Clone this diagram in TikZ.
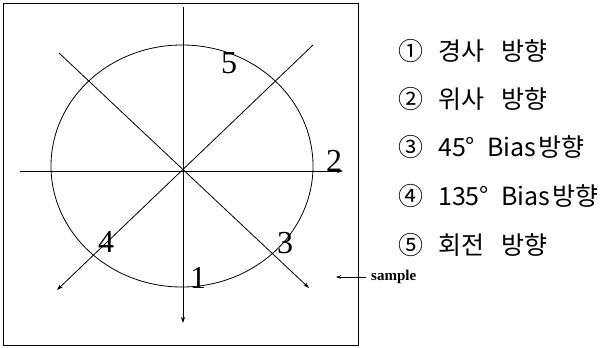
\documentclass[tikz,border=0pt]{standalone}
\usepackage{fontspec}
\setmainfont{Liberation Serif}
\newfontfamily\krfont{Noto Sans CJK KR}
\usetikzlibrary{arrows.meta,shapes.geometric}
\tikzset{
  ln/.style={line width=0.8pt},
  tip/.style={-{Stealth[length=6pt,width=4pt]}},
  num/.style={inner sep=0pt,font=\fontsize{32}{36}\selectfont},
  leg/.style={anchor=west,inner sep=0pt,font=\krfont\fontsize{25}{28}\selectfont},
}
\begin{document}
\begin{tikzpicture}[x=1pt,y=-1pt]
\useasboundingbox[fill=white] (0,0) rectangle (614,348);
% frame
\node[draw,ln,minimum width=355pt,minimum height=342pt,inner sep=0pt,anchor=north west] (frame) at (3,3) {};
% ellipse
\node[draw,ln,ellipse,minimum width=262pt,minimum height=242pt,inner sep=0pt] (sample) at (182,166) {};
% axes
\coordinate (c) at (183,171);
\coordinate (vt) at (183,7);
\coordinate (vb) at (183,323);
\coordinate (hl) at (20,171);
\coordinate (hr) at (343,171);
\coordinate (a1) at (59,53);
\coordinate (a2) at (309,288);
\coordinate (b1) at (313,45);
\coordinate (b2) at (57,290);
\draw[ln,tip] (vt) -- (vb);
\draw[ln,tip] (hl) -- (hr);
\draw[ln,tip] (a1) -- (a2);
\draw[ln,tip] (b1) -- (b2);
% numbers
\node[num] (n5) at (229,63) {5};
\node[num] (n2) at (334,161) {2};
\node[num] (n3) at (285,243) {3};
\node[num] (n4) at (106,242) {4};
\node[num] (n1) at (198,278) {1};
% sample label
\node[anchor=west,inner sep=0pt,font=\fontsize{15}{18}\bfseries\selectfont] (smp) at (371,277) {sample};
\coordinate (st) at (366,277);
\coordinate (se) at (336,277);
\draw[ln,-{Stealth[length=5pt,width=3.5pt]}] (st) -- (se);
% legend
\node[leg] (l1) at (398,51) {①\hspace{15pt}경사\hspace{17pt}방향};
\node[leg] (l2) at (398,99) {②\hspace{15pt}위사\hspace{17pt}방향};
\node[leg] (l3) at (398,147) {③\hspace{15pt}45°\hspace{12pt}Bias\hspace{2pt}방향};
\node[leg] (l4) at (398,196) {④\hspace{15pt}135°\hspace{12pt}Bias\hspace{2pt}방향};
\node[leg] (l5) at (398,245) {⑤\hspace{15pt}회전\hspace{17pt}방향};
\end{tikzpicture}
\end{document}
